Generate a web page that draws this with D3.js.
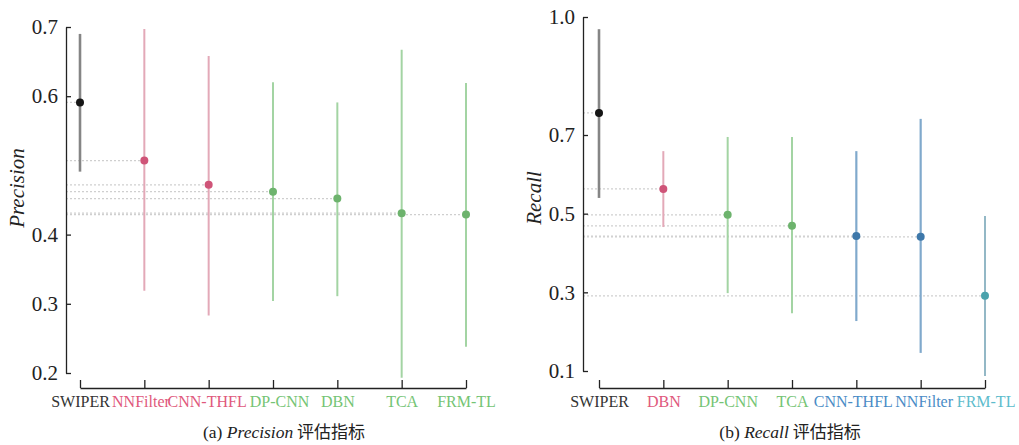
<!DOCTYPE html>
<html>
<head>
  <meta content="text/html;charset=utf-8" http-equiv="Content-Type">
  <title>Precision / Recall</title>
<script src="https://cdnjs.cloudflare.com/ajax/libs/d3/7.6.1/d3.min.js"></script>
<style>
  body { margin: 0; background: #fff; }
  text { font-family: 'Liberation Serif', 'Times New Roman', serif; }
</style>
</head>
<body>
<svg width="1019" height="445"></svg>
<script>

// --- data ---
const precCats  = ['SWIPER', 'NNFilter', 'CNN-THFL', 'DP-CNN', 'DBN', 'TCA', 'FRM-TL'];
const precMean  = [0.591, 0.507, 0.472, 0.462, 0.452, 0.431, 0.429];
const precLow   = [0.491, 0.319, 0.283, 0.304, 0.311, 0.193, 0.238];
const precHigh  = [0.690, 0.697, 0.658, 0.620, 0.591, 0.667, 0.619];
const precTicks = [0.7, 0.6, 0.4, 0.3, 0.2];

const recCats  = ['SWIPER', 'DBN', 'DP-CNN', 'TCA', 'CNN-THFL', 'NNFilter', 'FRM-TL'];
const recMean  = [0.756, 0.563, 0.497, 0.469, 0.443, 0.441, 0.291];
const recLow   = [0.540, 0.466, 0.298, 0.247, 0.227, 0.146, 0.087];
const recHigh  = [0.969, 0.659, 0.695, 0.695, 0.659, 0.741, 0.494];
const recTicks = [1.0, 0.7, 0.5, 0.3, 0.1];

// colour groups (style only)
const groups = {
  black: {line: '#858585', dot: '#151515', label: '#333333', w: 2.6},
  pink : {line: '#e3a9b8', dot: '#cf5478', label: '#e0587c', w: 2},
  green: {line: '#a3d4a3', dot: '#6db36d', label: '#74c474', w: 2},
  blue : {line: '#80a9cc', dot: '#3e78aa', label: '#4a8cc6', w: 2.2},
  teal : {line: '#93b8c6', dot: '#4aa2ac', label: '#5cbccc', w: 2}
};
const precGroup = ['black', 'pink', 'pink', 'green', 'green', 'green', 'green'];
const recGroup  = ['black', 'pink', 'green', 'green', 'blue', 'blue', 'teal'];

const svg = d3.select('svg');

function panel(o) {
  const g = svg.append('g');

  const y = d3.scaleLinear().domain(o.yDomain).range([o.yBottom, o.yTop]);
  const x = d3.scalePoint().domain(o.cats).range([o.x0, o.x1]).padding(0);

  const rows = o.cats.map((c, i) => ({
    name: c, mean: o.mean[i], lo: o.low[i], hi: o.high[i], grp: groups[o.group[i]]
  }));

//
// dotted guide lines from the y axis to each mean
//
  g.selectAll('line.guide')
    .data(rows)
    .enter().append('line')
    .attr('class', 'guide')
    .attr('x1', o.axisX)
    .attr('x2', d => x(d.name))
    .attr('y1', d => y(d.mean))
    .attr('y2', d => y(d.mean))
    .attr('stroke', '#cfcfcf')
    .attr('stroke-width', 1.2)
    .attr('stroke-dasharray', '2,2');

//
// range bars
//
  g.selectAll('line.bar')
    .data(rows)
    .enter().append('line')
    .attr('class', 'bar')
    .attr('x1', d => x(d.name))
    .attr('x2', d => x(d.name))
    .attr('y1', d => y(d.lo))
    .attr('y2', d => y(d.hi))
    .attr('stroke', d => d.grp.line)
    .attr('stroke-width', d => d.grp.w);

  g.selectAll('circle')
    .data(rows)
    .enter().append('circle')
    .attr('cx', d => x(d.name))
    .attr('cy', d => y(d.mean))
    .attr('r', 4)
    .attr('fill', d => d.grp.dot);

// --- y axis ---
  const yAxis = g.append('g')
    .attr('transform', `translate(${o.axisX},0)`)
    .call(d3.axisLeft(y).tickValues(o.ticks).tickFormat(d3.format('.1f'))
           .tickSize(-5).tickSizeOuter(0).tickPadding(8));
  yAxis.selectAll('text').attr('font-size', 21).attr('fill', '#222');
  yAxis.selectAll('path, line').attr('stroke', '#222').attr('stroke-width', 1.3);

// --- x axis ---
  const xAxis = g.append('g')
    .attr('transform', `translate(0,${o.axisY})`)
    .call(d3.axisBottom(x).tickSize(-8).tickSizeOuter(0).tickPadding(8));
  const labels = xAxis.selectAll('text').attr('font-size', 16)
       .attr('fill', (d, i) => rows[i].grp.label);
  xAxis.selectAll('path, line').attr('stroke', '#222').attr('stroke-width', 1.3);

  // nudge neighbouring labels apart where they would touch
  // (bbox is local to each tick, so add the tick position)
  const nodes = labels.nodes();
  const box = nodes.map((n, i) => {
    const b = n.getBBox();
    return {l: x(o.cats[i]) + b.x, r: x(o.cats[i]) + b.x + b.width};
  });
  const shift = nodes.map(() => 0);
  for (let i = 0; i < nodes.length - 1; i++) {
    const gap = (box[i + 1].l + shift[i + 1]) - (box[i].r + shift[i]);
    if (gap < 3) {
      const need = 3 - gap;
      shift[i] -= need / 2;
      shift[i + 1] += need / 2;
    }
  }
  labels.attr('dx', (d, i) => shift[i]);

// --- y axis title ---
  g.append('text')
    .attr('transform', `translate(${o.titleX},${o.titleY}) rotate(-90)`)
    .attr('text-anchor', 'middle')
    .attr('font-size', 21)
    .attr('font-style', 'italic')
    .attr('fill', '#222')
    .text(o.title);

// --- caption ---
  const cap = g.append('text')
    .attr('x', o.capX)
    .attr('y', 438)
    .attr('text-anchor', 'middle')
    .attr('font-size', 17.5)
    .attr('fill', '#222');
  cap.append('tspan').text(o.capPre);
  cap.append('tspan').attr('font-style', 'italic').text(o.title);
  cap.append('tspan').attr('font-family', "'Noto Sans CJK SC', sans-serif")
     .attr('font-size', 17).text(' 评估指标');
}

panel({
  cats: precCats, mean: precMean, low: precLow, high: precHigh, group: precGroup,
  ticks: precTicks, yDomain: [0.2, 0.7], yBottom: 373, yTop: 27,
  x0: 80, x1: 466, axisX: 66, axisY: 388,
  title: 'Precision', titleX: 24, titleY: 188,
  capPre: '(a) ', capX: 284
});

panel({
  cats: recCats, mean: recMean, low: recLow, high: recHigh, group: recGroup,
  ticks: recTicks, yDomain: [0.1, 1.0], yBottom: 371, yTop: 17,
  x0: 599, x1: 985, axisX: 583, axisY: 388,
  title: 'Recall', titleX: 541, titleY: 198,
  capPre: '(b) ', capX: 790
});

</script>
</body>
</html>
